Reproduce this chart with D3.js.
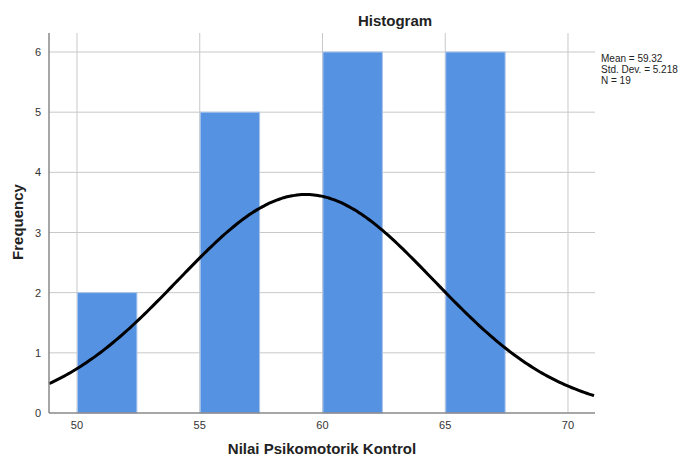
<!DOCTYPE html>
<html>
<head>
<meta charset="utf-8">
<script src="https://cdn.jsdelivr.net/npm/d3@7"></script>
<style>
  body { margin: 0; background: #fff; }
  text { font-family: "Liberation Sans", Arial, sans-serif; }
</style>
</head>
<body>
<script>
// Data
const binStarts = [50, 55, 60, 65];
const binCounts = [2, 5, 6, 6];
const binWidth = 2.5;
const xTicks = [50, 55, 60, 65, 70];
const yTicks = [0, 1, 2, 3, 4, 5, 6];
const stats = {mean: 59.32, sd: 5.218, n: 19};
const legendLines = ["Mean = 59.32", "Std. Dev. = 5.218", "N = 19"];

const W = 680, H = 458;
const plot = {left: 49, right: 595, top: 33, bottom: 413};

const svg = d3.select("body").append("svg")
    .attr("width", W).attr("height", H);

const x = d3.scaleLinear().domain([48.86, 71.1]).range([plot.left, plot.right]);
const y = d3.scaleLinear().domain([0, 6.316]).range([plot.bottom, plot.top]);

// gridlines
svg.append("g").selectAll("line.h")
    .data(yTicks.filter(d => d > 0))
    .join("line")
    .attr("x1", plot.left).attr("x2", plot.right)
    .attr("y1", d => y(d)).attr("y2", d => y(d))
    .attr("stroke", "#c8c8c8").attr("stroke-width", 1);

svg.append("g").selectAll("line.v")
    .data(xTicks)
    .join("line")
    .attr("x1", d => x(d)).attr("x2", d => x(d))
    .attr("y1", plot.top).attr("y2", plot.bottom)
    .attr("stroke", "#c8c8c8").attr("stroke-width", 1);

// bars
svg.append("g").selectAll("rect")
    .data(binStarts.map((s, i) => ({x0: s, x1: s + binWidth, c: binCounts[i]})))
    .join("rect")
    .attr("x", d => x(d.x0) + 0.5)
    .attr("width", d => x(d.x1) - x(d.x0) - 2)
    .attr("y", d => y(d.c))
    .attr("height", d => y(0) - y(d.c))
    .attr("fill", "#5592e2")
    .attr("stroke", "#a9c4ea")
    .attr("stroke-width", 1);

// normal curve
const scaleK = stats.n * binWidth / (stats.sd * Math.sqrt(2 * Math.PI));
const curvePts = d3.range(x.domain()[0], x.domain()[1] + 0.01, 0.1)
    .map(v => [v, scaleK * Math.exp(-0.5 * ((v - stats.mean) / stats.sd) ** 2)]);
svg.append("path")
    .datum(curvePts)
    .attr("fill", "none")
    .attr("stroke", "#000")
    .attr("stroke-width", 3)
    .attr("d", d3.line().x(d => x(d[0])).y(d => y(d[1])).curve(d3.curveBasis));

// axes lines
svg.append("line")
    .attr("x1", plot.left).attr("x2", plot.left)
    .attr("y1", plot.top).attr("y2", plot.bottom)
    .attr("stroke", "#888").attr("stroke-width", 1.5);
svg.append("line")
    .attr("x1", plot.left).attr("x2", plot.right)
    .attr("y1", plot.bottom).attr("y2", plot.bottom)
    .attr("stroke", "#888").attr("stroke-width", 1.5);

// tick labels
svg.append("g").selectAll("text")
    .data(yTicks)
    .join("text")
    .attr("x", 41).attr("y", d => y(d) + 4)
    .attr("text-anchor", "end")
    .attr("font-size", 11).attr("fill", "#333")
    .text(d => d);

svg.append("g").selectAll("text")
    .data(xTicks)
    .join("text")
    .attr("x", d => x(d)).attr("y", 429)
    .attr("text-anchor", "middle")
    .attr("font-size", 11).attr("fill", "#333")
    .text(d => d);

// titles
svg.append("text")
    .attr("x", 395).attr("y", 26)
    .attr("text-anchor", "middle")
    .attr("font-size", 15).attr("font-weight", "bold").attr("fill", "#222")
    .text("Histogram");

svg.append("text")
    .attr("x", 322).attr("y", 454)
    .attr("text-anchor", "middle")
    .attr("font-size", 15).attr("font-weight", "bold").attr("fill", "#222")
    .text("Nilai Psikomotorik Kontrol");

svg.append("text")
    .attr("transform", "translate(23,222) rotate(-90)")
    .attr("text-anchor", "middle")
    .attr("font-size", 15).attr("font-weight", "bold").attr("fill", "#222")
    .text("Frequency");

// legend
svg.append("g").selectAll("text")
    .data(legendLines)
    .join("text")
    .attr("x", 601).attr("y", (d, i) => 62 + i * 11)
    .attr("font-size", 10).attr("fill", "#222")
    .text(d => d);
</script>
</body>
</html>
